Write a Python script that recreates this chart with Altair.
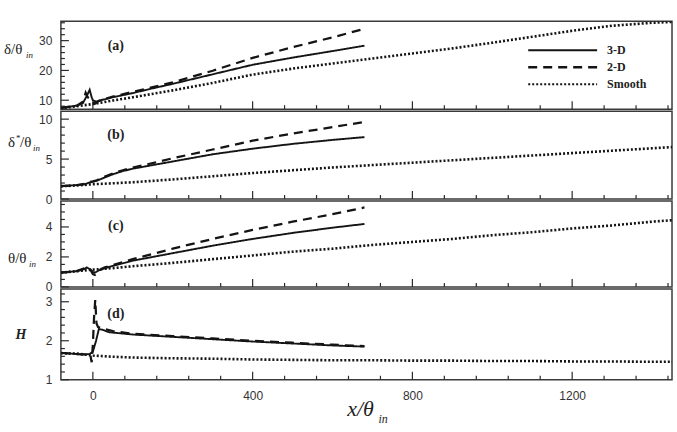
import altair as alt
import pandas as pd

X_MIN, X_MAX = -80, 1450
SERIES = ["3-D", "2-D", "Smooth"]

# ---- smooth-wall reference (x/θ_in stations) ----
x_smooth = [-80, -40, 0, 50, 100, 200, 300, 400, 500, 600, 700, 800, 900, 1000, 1100, 1200, 1300, 1400, 1450]
delta_smooth = [7.3, 8.0, 8.7, 9.9, 11.0, 13.3, 15.8, 18.6, 20.6, 22.3, 24.0, 25.7, 27.4, 29.3, 31.3, 33.3, 35.0, 36.0, 36.3]
dstar_smooth = [1.6, 1.7, 1.85, 1.97, 2.1, 2.45, 2.85, 3.25, 3.6, 3.95, 4.25, 4.55, 4.85, 5.15, 5.45, 5.75, 6.05, 6.35, 6.5]
theta_smooth = [0.95, 1.05, 1.15, 1.25, 1.38, 1.6, 1.85, 2.1, 2.35, 2.55, 2.8, 3.0, 3.2, 3.45, 3.65, 3.9, 4.1, 4.35, 4.45]
H_smooth = [1.68, 1.67, 1.62, 1.59, 1.57, 1.55, 1.54, 1.52, 1.51, 1.5, 1.5, 1.49, 1.49, 1.48, 1.48, 1.47, 1.47, 1.46, 1.46]

# ---- (a) boundary-layer thickness ----
x_3d_a = [-80, -40, -25, -15, -8, -3, 0, 8, 20, 50, 100, 150, 200, 300, 400, 500, 600, 680]
delta_3d = [7.4, 8.2, 9.0, 11.5, 13.5, 11.0, 10.0, 9.5, 10.0, 11.0, 12.4, 14.0, 15.5, 18.7, 21.9, 24.3, 26.5, 28.3]
x_2d_a = [-80, -40, -25, -18, -13, -5, 0, 5, 15, 50, 100, 150, 200, 300, 400, 500, 600, 680]
delta_2d = [7.4, 8.2, 9.5, 12.5, 11.0, 10.3, 9.5, 8.8, 9.8, 11.2, 12.8, 14.4, 16.0, 19.9, 24.2, 27.8, 31.1, 34.0]

# ---- (b) displacement thickness ----
x_b = [-80, -40, -20, -10, 0, 10, 25, 50, 75, 100, 150, 200, 300, 400, 500, 600, 680]
dstar_3d = [1.6, 1.75, 1.85, 2.05, 2.15, 2.3, 2.6, 3.1, 3.5, 3.8, 4.25, 4.7, 5.6, 6.3, 6.9, 7.4, 7.75]
dstar_2d = [1.6, 1.75, 1.9, 2.15, 2.2, 2.35, 2.7, 3.2, 3.6, 3.95, 4.5, 5.1, 6.2, 7.3, 8.2, 9.0, 9.65]

# ---- (c) momentum thickness ----
x_c = [-80, -40, -25, -15, -5, 0, 5, 15, 30, 50, 100, 150, 200, 300, 400, 500, 600, 680]
theta_3d = [0.95, 1.05, 1.15, 1.3, 1.15, 1.0, 0.95, 1.1, 1.25, 1.4, 1.75, 2.0, 2.25, 2.75, 3.2, 3.6, 3.95, 4.2]
theta_2d = [0.95, 1.05, 1.2, 1.3, 1.1, 0.85, 0.8, 1.1, 1.3, 1.45, 1.85, 2.2, 2.55, 3.2, 3.8, 4.35, 4.85, 5.3]

# ---- (d) shape factor ----
x_3d_d = [-80, -40, -20, -8, 0, 8, 15, 25, 40, 60, 100, 200, 300, 400, 500, 600, 680]
H_3d = [1.69, 1.66, 1.65, 1.66, 1.72, 2.0, 2.3, 2.28, 2.22, 2.2, 2.16, 2.1, 2.04, 1.98, 1.93, 1.88, 1.85]
x_2d_d = [-80, -40, -15, -6, -3, 0, 3, 6, 9, 13, 20, 30, 50, 100, 200, 300, 400, 500, 600, 680]
H_2d = [1.69, 1.66, 1.65, 1.62, 1.45, 1.9, 2.6, 3.05, 2.45, 2.35, 2.33, 2.3, 2.25, 2.18, 2.12, 2.06, 2.0, 1.95, 1.9, 1.86]

# axis tick values
x_major = [0, 400, 800, 1200]
x_minor = [v for v in range(80, 1441, 80) if v % 400 != 0]

W = 612
INK = "#2b2b2b"
SERIF = "Liberation Serif"
SANS = "Liberation Sans"
one = pd.DataFrame({"k": [0]})


def frame(curves):
    rows = []
    for name, xs, ys in curves:
        rows += [{"series": name, "x": a, "y": b} for a, b in zip(xs, ys)]
    return pd.DataFrame(rows)


def label(text, x, y, size, style="normal", weight="normal", align="left", font=SERIF):
    return alt.Chart(one).mark_text(
        text=text, font=font, fontSize=size, fontStyle=style, fontWeight=weight,
        align=align, baseline="alphabetic", color="#222"
    ).encode(x=alt.value(x), y=alt.value(y))


def panel(df, ydom, h, ymaj, ymin, extras, bottom=False):
    xs = alt.Scale(domain=[X_MIN, X_MAX], nice=False, zero=False)
    ys = alt.Scale(domain=ydom, nice=False, zero=False)
    xaxis = alt.Axis(values=x_major, ticks=False, domain=False, grid=False, title=None,
                     labelPadding=11, labelFont=SANS, labelFontSize=12, labelColor="#333",
                     format="d") if bottom else None
    yaxis = alt.Axis(values=ymaj, ticks=False, domain=False, grid=False, title=None,
                     labelPadding=9, labelFont=SANS, labelFontSize=12, labelColor="#333")

    lines = alt.Chart(df).mark_line(clip=True, color="#141414").encode(
        x=alt.X("x:Q", scale=xs, axis=xaxis),
        y=alt.Y("y:Q", scale=ys, axis=yaxis),
        strokeDash=alt.StrokeDash("series:N", scale=alt.Scale(domain=SERIES, range=[[1, 0], [9, 6], [2, 2]]), legend=None),
        strokeWidth=alt.StrokeWidth("series:N", scale=alt.Scale(domain=SERIES, range=[1.9, 2.6, 2.2]), legend=None),
        detail="series:N",
    )

    def xt(vals, ln):
        return alt.Chart(pd.DataFrame({"v": vals})).mark_rule(color=INK, strokeWidth=1.2).encode(
            x=alt.X("v:Q", scale=xs, axis=xaxis), y=alt.value(h), y2=alt.value(h - ln))

    def yt(vals, ln):
        return alt.Chart(pd.DataFrame({"v": vals})).mark_rule(color=INK, strokeWidth=1.2).encode(
            y=alt.Y("v:Q", scale=ys, axis=yaxis), x=alt.value(0), x2=alt.value(ln))

    layers = [xt(x_minor, 4), xt(x_major, 8), yt(ymin, 4), yt(ymaj, 8), lines] + extras
    return alt.layer(*layers).properties(width=W, height=h)


def legend_rows():
    out = []
    dashes = {"3-D": [1, 0], "2-D": [9, 6], "Smooth": [2, 2]}
    widths = {"3-D": 1.9, "2-D": 2.6, "Smooth": 2.0}
    for i, name in enumerate(SERIES):
        yy = 29 + i * 17
        out.append(alt.Chart(one).mark_rule(color="#141414", strokeDash=dashes[name], strokeWidth=widths[name])
                   .encode(x=alt.value(468), x2=alt.value(537), y=alt.value(yy)))
        out.append(label(name, 547, yy + 4, 12, weight="bold"))
    return out


df_a = frame([("Smooth", x_smooth, delta_smooth), ("3-D", x_3d_a, delta_3d), ("2-D", x_2d_a, delta_2d)])
df_b = frame([("Smooth", x_smooth, dstar_smooth), ("3-D", x_b, dstar_3d), ("2-D", x_b, dstar_2d)])
df_c = frame([("Smooth", x_smooth, theta_smooth), ("3-D", x_c, theta_3d), ("2-D", x_c, theta_2d)])
df_d = frame([("Smooth", x_smooth, H_smooth), ("3-D", x_3d_d, H_3d), ("2-D", x_2d_d, H_2d)])

pa = panel(df_a, [7, 36.5], 88, [10, 20, 30], [8, 12, 14, 16, 18, 22, 24, 26, 28, 32, 34, 36],
           [label("δ/θ", -57, 33, 15), label("in", -35, 37, 9, style="italic"),
            label("(a)", 55, 29, 14, weight="bold", align="center")] + legend_rows())
pb = panel(df_b, [0, 11], 88, [0, 5, 10], [1, 2, 3, 4, 6, 7, 8, 9],
           [label("δ", -53, 36, 15), label("*", -45, 30, 9), label("/θ", -41, 36, 15),
            label("in", -28, 40, 9, style="italic"),
            label("(b)", 55, 28, 14, weight="bold", align="center")])
pc = panel(df_c, [0, 5.73], 86, [0, 2, 4], [0.5, 1, 1.5, 2.5, 3, 3.5, 4.5, 5, 5.5],
           [label("θ/θ", -53, 62, 15), label("in", -32, 66, 9, style="italic"),
            label("(c)", 55, 29, 14, weight="bold", align="center")])
pd_ = panel(df_d, [1, 3.33], 91, [1, 2, 3],
            [1.2, 1.4, 1.6, 1.8, 2.2, 2.4, 2.6, 2.8, 3.2],
            [label("H", -40, 50, 14, style="italic", weight="bold", align="center"),
             label("(d)", 55, 29, 14, weight="bold", align="center"),
             label("x/θ", 300, 127, 22, style="italic", align="center"),
             label("in", 318, 134, 12, style="italic")],
            bottom=True)

chart = alt.vconcat(pa, pb, pc, pd_, spacing=2, bounds="flush").resolve_scale(y="independent").properties(
    padding={"left": 3, "top": 20, "right": 4, "bottom": 2},
    autosize=alt.AutoSizeParams(type="pad"),
    background="white",
).configure_view(stroke="#3a3a3a", strokeWidth=1.5)

chart.save("out.html", embed_options={"renderer": "svg", "actions": False})
